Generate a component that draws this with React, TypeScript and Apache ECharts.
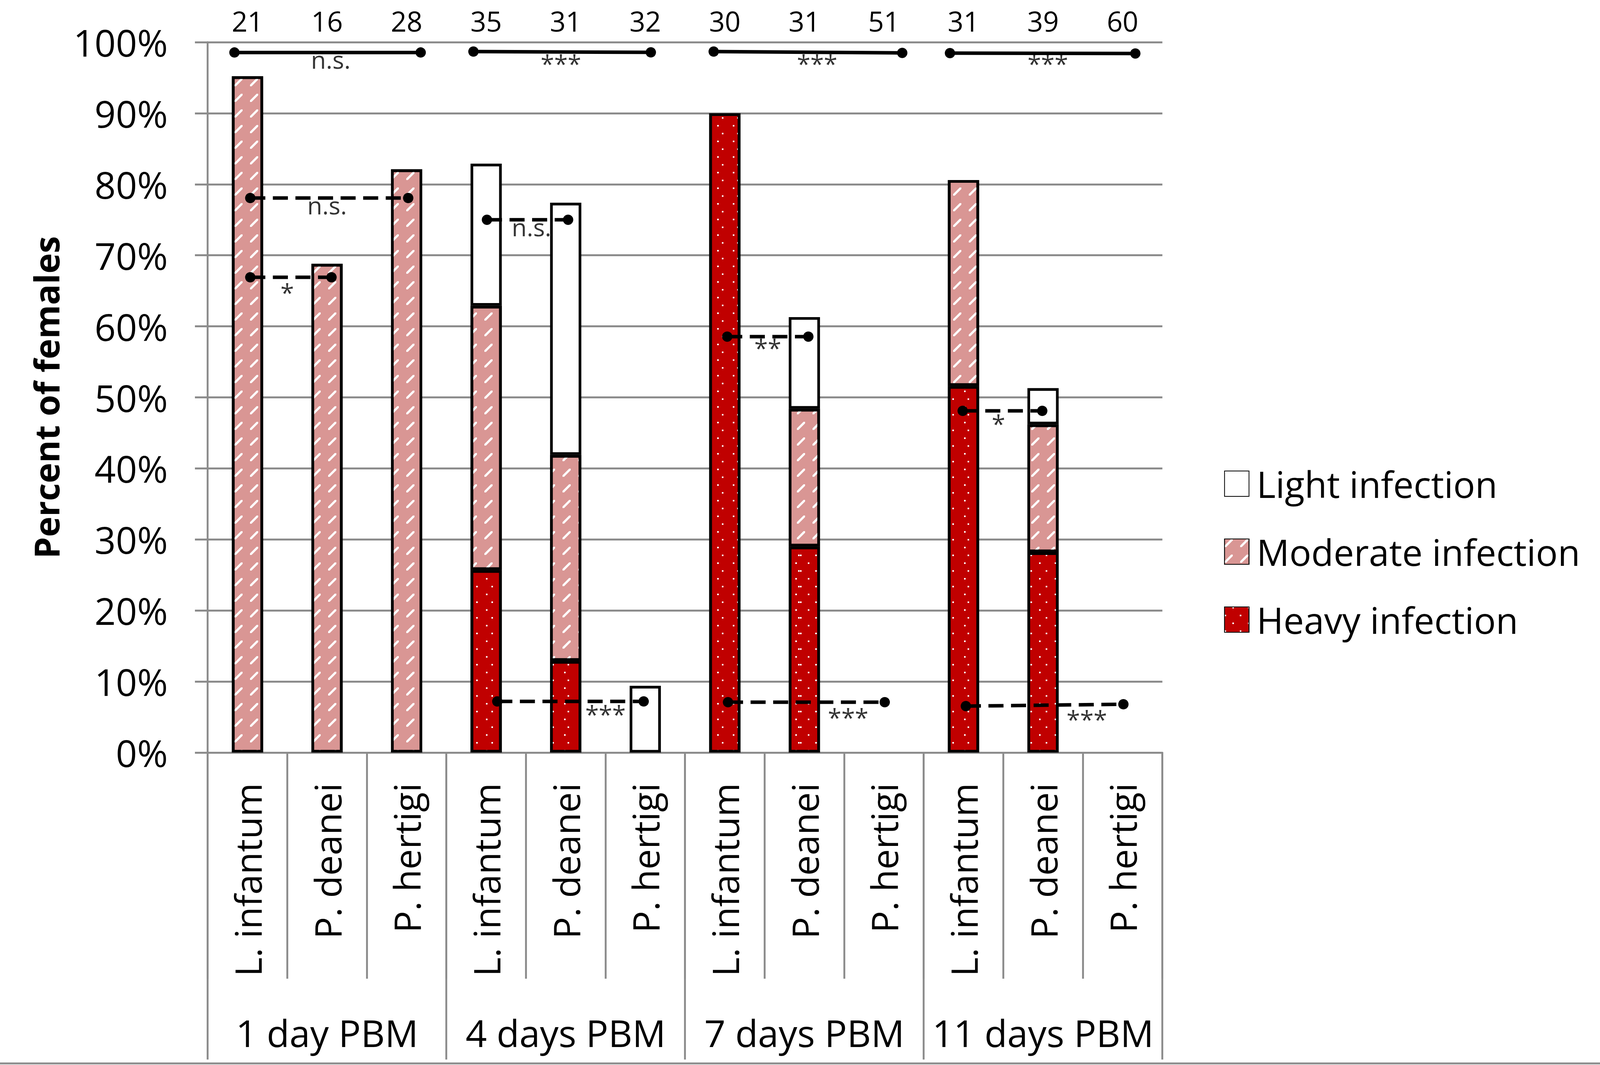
import React, { useEffect, useRef } from 'react';
import * as echarts from 'echarts';

const species = ['L. infantum', 'P. deanei', 'P. hertigi', 'L. infantum', 'P. deanei', 'P. hertigi', 'L. infantum', 'P. deanei', 'P. hertigi', 'L. infantum', 'P. deanei', 'P. hertigi'];
const groups = ['1 day PBM', '4 days PBM', '7 days PBM', '11 days PBM'];
const sampleSizes = ['21', '16', '28', '35', '31', '32', '30', '31', '51', '31', '39', '60'];
const yTicks = { min: 0, max: 100, interval: 10 };

// percent of females (segment sizes), '-' = no segment
const heavy = ['-', '-', '-', 25.7, 12.9, '-', 90.0, 29.0, '-', 51.6, 28.2, '-'];
const moderate = [95.2, 68.8, 82.1, 37.2, 29.0, '-', '-', 19.4, '-', 29.0, 18.0, '-'];
const light = ['-', '-', '-', 20.0, 35.5, 9.4, '-', 12.9, '-', '-', 5.1, '-'];

// significance brackets: [xStart, yStart, xEnd, yEnd] in category units (0..12) and percent
const solidBrackets = [
  [0.336, 98.55, 2.677, 98.55],
  [3.34, 98.68, 5.57, 98.57],
  [6.36, 98.68, 8.73, 98.49],
  [9.33, 98.46, 11.66, 98.41],
];
const dashedBrackets = [
  [0.535, 78.06, 2.52, 78.06],
  [0.535, 66.9, 1.556, 66.9],
  [3.51, 75.0, 4.53, 75.0],
  [3.64, 7.2, 5.48, 7.2],
  [6.53, 58.55, 7.55, 58.55],
  [6.54, 7.09, 8.51, 7.09],
  [9.49, 48.1, 10.49, 48.1],
  [9.53, 6.54, 11.51, 6.8],
];
const sigLabelX = [1.547, 4.44, 7.66, 10.56, 1.5, 1.0, 4.07, 5.0, 7.04, 8.05, 9.94, 11.05];
const sigLabelY = [97.6, 97.05, 97.05, 97.05, 77.1, 64.85, 74.0, 5.45, 57.05, 5.05, 46.35, 4.75];
const sigLabelText = ['n.s.', '***', '***', '***', 'n.s.', '*', 'n.s.', '***', '**', '***', '*', '***'];

const FONT = 'Open Sans';
const GRAY = '#8c8c8c';
const PINK = '#d99694';
const RED = '#c00000';
const DESIGN_W = 4252;
const DESIGN_H = 2727;

export default function App() {
  const ref = useRef<HTMLDivElement>(null);
  useEffect(() => {
    document.body.style.margin = '0';
    document.body.style.overflow = 'hidden';
    if (!ref.current) return;
    const chart = echarts.init(ref.current, null, { renderer: 'svg' });
    const W = ref.current.clientWidth || DESIGN_W;
    const H = ref.current.clientHeight || DESIGN_H;
    const kx = W / DESIGN_W;
    const ky = H / DESIGN_H;
    const kf = Math.sqrt(kx * ky);
    const sx = (v: number) => v * kx;
    const sy = (v: number) => v * ky;
    const f = (v: number) => v * kf;

    const barCommon = {
      type: 'bar',
      stack: 'inf',
      xAxisIndex: 0,
      yAxisIndex: 0,
      barWidth: sx(83),
    };

    const bracketSeries: any[] = [];
    const addBracket = (b: number[], dashed: boolean) => {
      bracketSeries.push({
        type: 'line', xAxisIndex: 2, yAxisIndex: 0,
        data: [[b[0], b[1]], [b[2], b[3]]],
        symbol: 'circle', symbolSize: f(27),
        itemStyle: { color: '#000' },
        lineStyle: { color: '#000', width: sy(9), type: dashed ? [sx(40), sx(20)] : 'solid' },
        z: 5, silent: true,
      });
    };
    solidBrackets.forEach((b) => addBracket(b, false));
    dashedBrackets.forEach((b) => addBracket(b, true));

    const option: any = {
      animation: false,
      textStyle: { fontFamily: FONT, color: '#000' },
      grid: { left: sx(552), top: sy(108), right: W - sx(3089), bottom: H - sy(1927), containLabel: false },
      legend: {
        orient: 'vertical',
        left: sx(3248),
        top: sy(1186),
        itemWidth: sx(65),
        itemHeight: sy(65),
        itemGap: sy(79),
        icon: 'rect',
        selectedMode: false,
        data: ['Light infection', 'Moderate infection', 'Heavy infection'],
        textStyle: { fontFamily: FONT, fontSize: f(95), lineHeight: sy(95), color: '#000', padding: [0, 0, 0, sx(15)] },
      },
      xAxis: [
        {
          type: 'category',
          data: species,
          position: 'bottom',
          axisLine: { show: true, onZero: false, lineStyle: { color: GRAY, width: sy(5) } },
          axisTick: { show: true, length: sy(579), interval: 0, alignWithLabel: false, lineStyle: { color: GRAY, width: sx(5) } },
          axisLabel: { rotate: 90, interval: 0, margin: sy(78), fontSize: f(95), color: '#000', fontFamily: FONT },
          splitLine: { show: false },
        },
        {
          type: 'category',
          data: sampleSizes,
          position: 'top',
          axisLine: { show: false },
          axisTick: { show: false },
          axisLabel: { interval: 0, margin: sy(30), fontSize: f(72), lineHeight: sy(50), color: '#000', fontFamily: FONT },
          splitLine: { show: false },
        },
        {
          type: 'value',
          min: 0,
          max: 12,
          show: false,
          splitLine: { show: false },
        },
        {
          type: 'category',
          data: groups,
          position: 'bottom',
          axisLine: { show: false, onZero: false },
          axisTick: { show: true, length: sy(786), interval: 0, alignWithLabel: false, lineStyle: { color: GRAY, width: sx(5) } },
          axisLabel: { interval: 0, margin: sy(669), fontSize: f(97), color: '#000', fontFamily: FONT },
          splitLine: { show: false },
        },
      ],
      yAxis: [
        {
          type: 'value',
          min: yTicks.min,
          max: yTicks.max,
          interval: yTicks.interval,
          name: 'Percent of females',
          nameLocation: 'middle',
          nameGap: sx(384),
          nameTextStyle: { fontSize: f(90), fontWeight: 'bold', color: '#000', fontFamily: FONT },
          axisLine: { show: true, lineStyle: { color: GRAY, width: sx(5) } },
          axisTick: { show: true, length: sx(34), lineStyle: { color: GRAY, width: sy(5) } },
          axisLabel: { formatter: '{value}%', margin: sx(106), fontSize: f(97), color: '#000', fontFamily: FONT },
          splitLine: { show: true, lineStyle: { color: GRAY, width: sy(5) } },
        },
      ],
      series: [
        {
          ...barCommon,
          name: 'Heavy infection',
          data: heavy,
          itemStyle: {
            color: RED,
            borderColor: '#000',
            borderWidth: f(7),
            decal: {
              symbol: 'rect',
              symbolSize: 1,
              color: '#ffffff',
              dashArrayX: [[sx(4), sx(36)], [0, sx(20), sx(4), sx(16)]],
              dashArrayY: [sy(4), sy(16)],
            },
          },
        },
        {
          ...barCommon,
          name: 'Moderate infection',
          data: moderate,
          itemStyle: {
            color: PINK,
            borderColor: '#000',
            borderWidth: f(7),
            decal: {
              symbol: 'path://M0,21 L4,21 L21,4 L21,0 L17,0 L0,17 Z',
              symbolSize: 1,
              color: '#ffffff',
              dashArrayX: [sx(21), sx(19)],
              dashArrayY: [sy(21), sy(19)],
            },
          },
        },
        {
          ...barCommon,
          name: 'Light infection',
          data: light,
          itemStyle: { color: '#ffffff', borderColor: '#000', borderWidth: f(7) },
        },
        ...bracketSeries,
        {
          type: 'scatter',
          xAxisIndex: 2,
          yAxisIndex: 0,
          symbolSize: 1,
          itemStyle: { color: 'rgba(0,0,0,0)' },
          silent: true,
          z: 6,
          data: sigLabelX.map((x, i) => ({ name: sigLabelText[i], value: [x, sigLabelY[i]] })),
          label: {
            show: true,
            position: 'inside',
            formatter: '{b}',
            fontSize: f(64),
            color: '#000',
            fontFamily: FONT,
          },
        },
      ],
      graphic: [
        {
          type: 'line',
          shape: { x1: 0, y1: H - sy(4), x2: W, y2: H - sy(4) },
          style: { stroke: GRAY, lineWidth: sy(5) },
          silent: true,
        },
      ],
    };

    chart.setOption(option);
    return () => chart.dispose();
  }, []);

  return <div ref={ref} style={{ width: '100vw', height: '100vh' }} />;
}
